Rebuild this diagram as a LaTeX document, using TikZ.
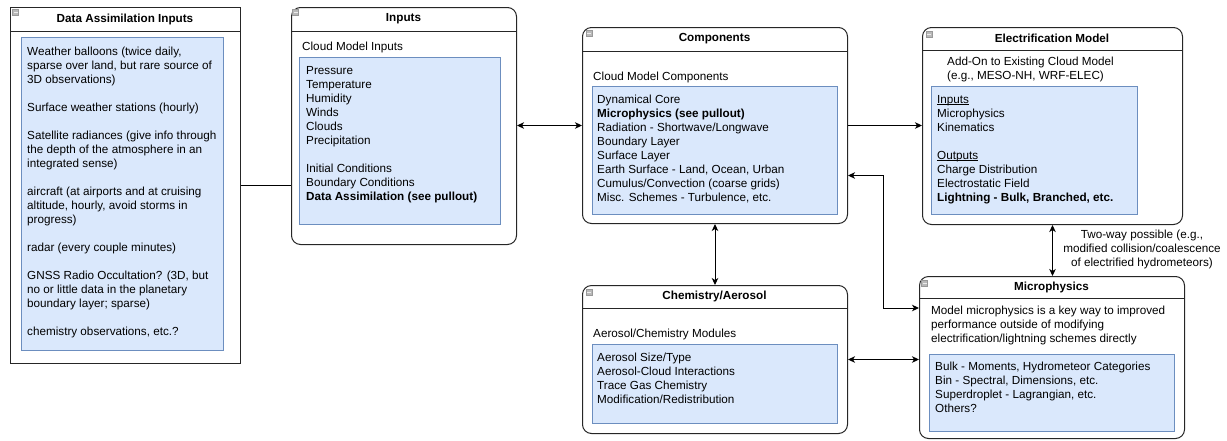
\documentclass[tikz,border=0pt]{standalone}
\usepackage{fontspec}
\setmainfont{Liberation Sans}
\usetikzlibrary{arrows.meta,calc}
\definecolor{bluefill}{HTML}{DAE8FC}
\definecolor{blueline}{HTML}{6C8EBF}
\newlength\myullen
\newcommand\myul[1]{\settowidth\myullen{#1}\rlap{#1}\rule[-1.3pt]{\myullen}{0.6pt}}
\begin{document}
\begin{tikzpicture}[x=1pt,y=-1pt,
 outerbox/.style={draw=black!85, line width=1pt, fill=white, anchor=north west, inner sep=0},
 rbox/.style={outerbox, rounded corners=9pt},
 innerbox/.style={draw=blueline, fill=bluefill, line width=0.8pt, anchor=north west, inner sep=0},
 hdr/.style={draw=black!85, line width=1pt},
 ttl/.style={font=\bfseries\fontsize{11.7}{14}\selectfont, inner sep=0},
 txt/.style={anchor=north west, inner sep=0, align=left, font=\fontsize{11.7}{14}\selectfont},
 icon/.style={draw=gray!80, fill=gray!55, minimum size=6pt, inner sep=0, line width=0.6pt,
   path picture={\draw[gray!15, line width=0.9pt] ([xshift=1pt]path picture bounding box.west) -- ([xshift=-1pt]path picture bounding box.east);}},
 conn/.style={line width=1pt, black},
 >={Stealth[length=7pt,width=6.5pt,inset=2pt]}
]
\useasboundingbox (0,0) rectangle (1227,440);

% ---------- Data Assimilation Inputs ----------
\node[outerbox, minimum width=230pt, minimum height=356pt] (da) at (10,7) {};
\draw[hdr] ([yshift=-24pt]da.north west) -- ([yshift=-24pt]da.north east);
\node[icon] (da-ic) at (15.5,12.5) {};
\node[ttl] (da-t) at (125,19) {Data Assimilation Inputs};
\node[innerbox, minimum width=202pt, minimum height=313pt] (da-in) at (21,37) {};
\node[txt] (da-x) at (27,45.7) {\strut Weather balloons (twice daily,\\ sparse over land, but rare source of\\ 3D observations)\\[14pt] Surface weather stations (hourly)\\[14pt] Satellite radiances (give info through\\ the depth of the atmosphere in an\\ integrated sense)\\[14pt] aircraft (at airports and at cruising\\ altitude, hourly, avoid storms in\\ progress)\\[14pt] radar (every couple minutes)\\[14pt] GNSS Radio Occultation? (3D, but\\ no or little data in the planetary\\ boundary layer; sparse)\\[14pt] chemistry observations, etc.?};

% ---------- Inputs ----------
\node[rbox, minimum width=225pt, minimum height=237pt] (inp) at (291,7) {};
\draw[hdr] ([yshift=-24pt]inp.north west) -- ([yshift=-24pt]inp.north east);
\node[icon] (inp-ic) at (295.5,12.5) {};
\node[ttl] (inp-t) at (403.5,19) {Inputs};
\node[txt] (inp-s) at (302,40.7) {\strut Cloud Model Inputs};
\node[innerbox, minimum width=201pt, minimum height=167pt] (inp-in) at (299,57) {};
\node[txt] (inp-x) at (306,64.4) {\strut Pressure\\Temperature\\Humidity\\Winds\\Clouds\\Precipitation\\[14pt]Initial Conditions\\Boundary Conditions\\\textbf{Data Assimilation (see pullout)}};

% ---------- Components ----------
\node[rbox, minimum width=265pt, minimum height=196pt] (comp) at (582,27) {};
\draw[hdr] ([yshift=-24pt]comp.north west) -- ([yshift=-24pt]comp.north east);
\node[icon] (comp-ic) at (589,33.5) {};
\node[ttl] (comp-t) at (714.5,39) {Components};
\node[txt] (comp-s) at (593,70.7) {\strut Cloud Model Components};
\node[innerbox, minimum width=245pt, minimum height=128pt] (comp-in) at (592,86) {};
\node[txt] (comp-x) at (597,93.7) {\strut Dynamical Core\\\textbf{Microphysics (see pullout)}\\Radiation - Shortwave/Longwave\\Boundary Layer\\Surface Layer\\Earth Surface - Land, Ocean, Urban\\Cumulus/Convection (coarse grids)\\Misc. Schemes - Turbulence, etc.};

% ---------- Electrification Model ----------
\node[rbox, minimum width=260pt, minimum height=197pt] (elec) at (922,27) {};
\draw[hdr] ([yshift=-23.5pt]elec.north west) -- ([yshift=-23.5pt]elec.north east);
\node[icon] (elec-ic) at (929,34) {};
\node[ttl] (elec-t) at (1052,38.5) {Electrification Model};
\node[txt] (elec-s) at (947,55.7) {\strut Add-On to Existing Cloud Model\\(e.g., MESO-NH, WRF-ELEC)};
\node[innerbox, minimum width=206pt, minimum height=128pt] (elec-in) at (931,86) {};
\node[txt] (elec-x) at (937,93.7) {\strut\myul{Inputs}\\Microphysics\\Kinematics\\[14pt]\myul{Outputs}\\Charge Distribution\\Electrostatic Field\\\textbf{Lightning - Bulk, Branched, etc.}};

% ---------- Chemistry/Aerosol ----------
\node[rbox, minimum width=265pt, minimum height=148pt] (chem) at (582,285) {};
\draw[hdr] ([yshift=-23.5pt]chem.north west) -- ([yshift=-23.5pt]chem.north east);
\node[icon] (chem-ic) at (589,292.5) {};
\node[ttl] (chem-t) at (714.5,296.5) {Chemistry/Aerosol};
\node[txt] (chem-s) at (593,327.7) {\strut Aerosol/Chemistry Modules};
\node[innerbox, minimum width=245pt, minimum height=79pt] (chem-in) at (592,344) {};
\node[txt] (chem-x) at (597,351.7) {\strut Aerosol Size/Type\\Aerosol-Cloud Interactions\\Trace Gas Chemistry\\Modification/Redistribution};

% ---------- Microphysics ----------
\node[rbox, minimum width=265pt, minimum height=162pt] (micro) at (919,276) {};
\draw[hdr] ([yshift=-22.5pt]micro.north west) -- ([yshift=-22.5pt]micro.north east);
\node[icon] (micro-ic) at (924.5,283) {};
\node[ttl] (micro-t) at (1051.5,287) {Microphysics};
\node[txt] (micro-s) at (931,304.7) {\strut Model microphysics is a key way to improved\\performance outside of modifying\\electrification/lightning schemes directly};
\node[innerbox, minimum width=245pt, minimum height=77pt] (micro-in) at (929,354) {};
\node[txt] (micro-x) at (935,360.7) {\strut Bulk - Moments, Hydrometeor Categories\\Bin - Spectral, Dimensions, etc.\\Superdroplet - Lagrangian, etc.\\Others?};

% ---------- Connectors ----------
\draw[conn] (da.east) -- (da.east -| inp.west);
\draw[conn,<->] (inp.east |- comp.west) -- (comp.west);
\draw[conn,->] (comp.east) -- (comp.east -| elec.west);
\coordinate (bendc) at (883,308);
\draw[conn,<->] ([yshift=-50pt]comp.east) -| (bendc) -- (bendc -| micro.west);
\draw[conn,<->] (comp.south) -- (chem.north);
\draw[conn,<->] (chem.east) -- (chem.east -| micro.west);
\draw[conn,<->] (elec.south) -- (elec.south |- micro.north);
\node[align=center, inner sep=0, font=\fontsize{11.7}{14}\selectfont] (lbl) at (1142,249) {Two-way possible (e.g.,\\modified collision/coalescence\\of electrified hydrometeors)};
\end{tikzpicture}
\end{document}
